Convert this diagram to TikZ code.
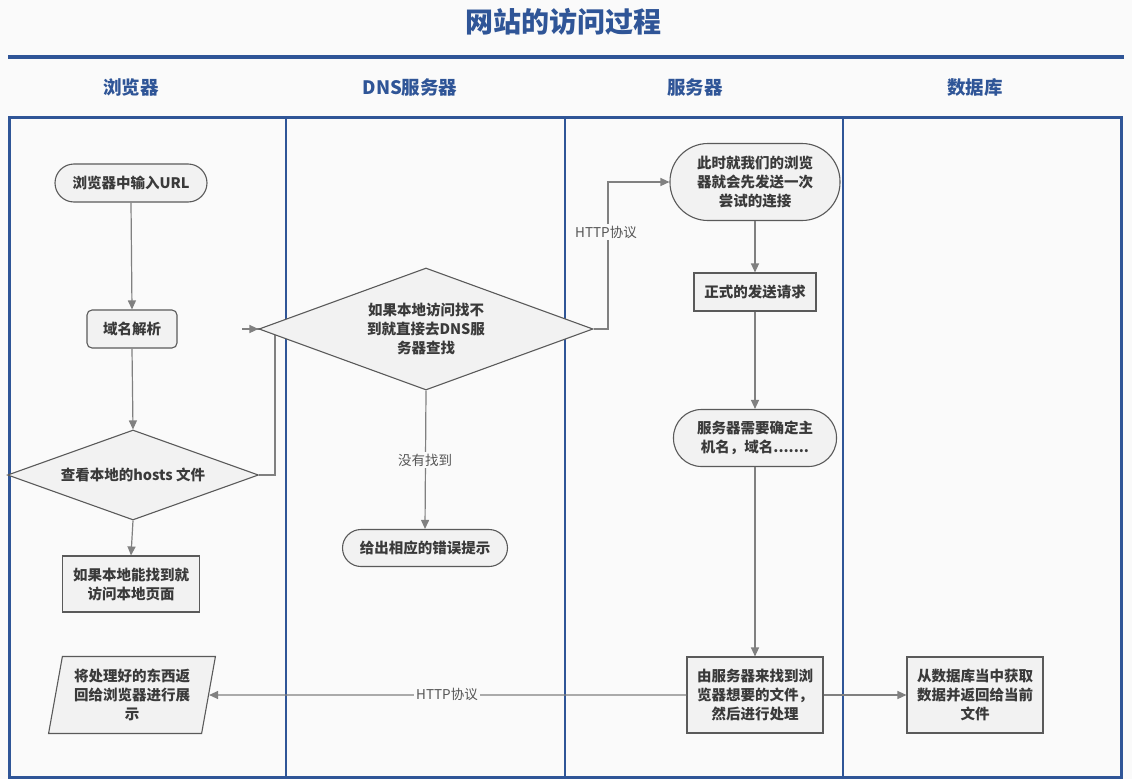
\documentclass[tikz,border=0pt]{standalone}
\usepackage{fontspec}
\setmainfont{Noto Sans CJK SC}
\usetikzlibrary{shapes.geometric,arrows.meta,backgrounds}
\definecolor{laneblue}{HTML}{2F5597}
\definecolor{bgcol}{HTML}{FAFAFA}
\definecolor{nodefill}{HTML}{F2F2F2}
\definecolor{nodeborder}{HTML}{5A5A5A}
\definecolor{nodetext}{HTML}{3A3A3A}
\definecolor{linkgray}{HTML}{808080}
\definecolor{labeltext}{HTML}{555555}
\tikzset{
  base/.style={draw=nodeborder, fill=nodefill, line width=1.1pt, text=nodetext,
    font=\fontsize{14.5}{19}\selectfont\bfseries, align=center, inner sep=0pt},
  stadium/.style={base, rectangle},
  roundbox/.style={base, rectangle, rounded corners=5pt},
  plainbox/.style={base, rectangle},
  decision/.style={base, diamond},
  iobox/.style={base, trapezium, trapezium left angle=77.5, trapezium right angle=102.5, trapezium stretches=true},
  link/.style={draw=linkgray, line width=1.2pt, -{Triangle[length=9pt,width=8pt]}},
  plainlink/.style={draw=linkgray, line width=1.2pt},
  linklabel/.style={fill=bgcol, text=labeltext, font=\fontsize{13.5}{16}\selectfont, inner sep=2pt},
  header/.style={text=laneblue, font=\fontsize{18.5}{22}\selectfont\bfseries},
  lane/.style={draw=laneblue, line width=2.5pt}
}
\begin{document}
\begin{tikzpicture}[x=1pt,y=-1pt]
\begin{scope}[on background layer]
\fill[bgcol] (0,0) rectangle (1132,779);
\end{scope}
\useasboundingbox (0,0) rectangle (1132,779);

% title and header band
\node[text=laneblue, font=\fontsize{28}{32}\selectfont\bfseries] (title) at (563,22) {网站的访问过程};
\draw[draw=laneblue, line width=4pt] (8,57) -- (1124,57);
\node[header] (h1) at (131,87) {浏览器};
\node[header] (h2) at (410,87) {DNS服务器};
\node[header] (h3) at (695,87) {服务器};
\node[header] (h4) at (975,87) {数据库};

% swimlanes
\draw[lane, line width=3pt] (9,117) rectangle (1121,777);
\draw[lane] (286,117) -- (286,777);
\draw[lane] (565,117) -- (565,777);
\draw[lane] (843,117) -- (843,777);

% nodes
\node[stadium, rounded corners=19pt, minimum width=152pt, minimum height=38pt] (url) at (131,183) {浏览器中输入URL};
\node[roundbox, minimum width=90pt, minimum height=38pt] (parse) at (132,329) {域名解析};
\node[decision, aspect=2.8, minimum width=251pt, minimum height=90pt] (hosts) at (133,475) {查看本地的hosts 文件};
\node[plainbox, minimum width=137pt, minimum height=56pt] (local) at (131,584) {如果本地能找到就\\访问本地页面};
\node[iobox, minimum width=167pt, minimum height=77pt] (show) at (132,695) {将处理好的东西返\\回给浏览器进行展\\示};

\node[decision, aspect=2.74, minimum width=334pt, minimum height=122pt] (dns) at (426,329) {如果本地访问找不\\到就直接去DNS服\\务器查找};
\node[stadium, rounded corners=18.5pt, minimum width=165pt, minimum height=37pt] (err) at (425,548) {给出相应的错误提示};

\node[stadium, rounded corners=38pt, minimum width=170pt, minimum height=77pt] (try) at (755,182) {此时就我们的浏览\\器就会先发送一次\\尝试的连接};
\node[plainbox, minimum width=122pt, minimum height=38pt] (req) at (755,292) {正式的发送请求};
\node[stadium, rounded corners=28pt, minimum width=163pt, minimum height=57pt] (host) at (755,438) {服务器需要确定主\\机名，域名.......};
\node[plainbox, minimum width=136pt, minimum height=76pt] (proc) at (755,695) {由服务器来找到浏\\览器想要的文件，\\然后进行处理};
\node[plainbox, minimum width=136pt, minimum height=76pt] (db) at (975,695) {从数据库当中获取\\数据并返回给当前\\文件};

\coordinate (hostsR) at (275,475);
\coordinate (loopTop) at (275,329);
\coordinate (loopL) at (242,329);
\coordinate (dnsR) at (608,329);
\coordinate (tryL) at (608,182);

% connectors
\begin{scope}[on background layer]
\draw[plainlink] (hosts.east) -- (hostsR) -- (loopTop) -- (loopL);
\draw[link] (loopL) -- (dns.west);
\draw[link] (dns.east) -- (dnsR) -- (tryL) -- (try.west);
\end{scope}
\node[linklabel] (lab1) at (606,232) {HTTP协议};
\draw[link] (url.south) -- (parse.north);
\draw[link] (parse.south) -- (hosts.north);
\draw[link] (hosts.south) -- (local.north);
\draw[link] (dns.south) -- (err.north);
\node[linklabel] (lab2) at (425,460) {没有找到};
\draw[link] (try.south) -- (req.north);
\draw[link] (req.south) -- (host.north);
\draw[link] (host.south) -- (proc.north);
\draw[link] (proc.west) -- (show.east);
\node[linklabel] (lab3) at (447,694) {HTTP协议};
\draw[link] (proc.east) -- (db.west);
\end{tikzpicture}
\end{document}
